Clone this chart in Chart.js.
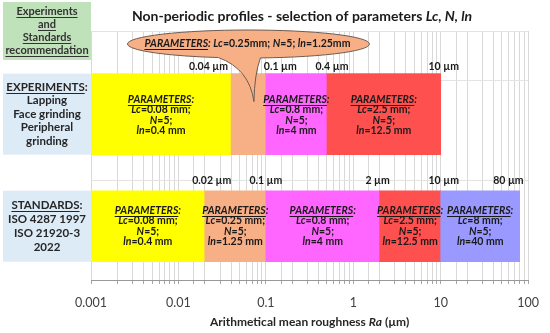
<!DOCTYPE html>
<html>
<head>
<meta charset="utf-8">
<script src="https://cdn.jsdelivr.net/npm/chart.js@4.4.0/dist/chart.umd.min.js"></script>
<style>
  html, body { margin: 0; padding: 0; background: #fff; }
  #wrap { width: 550px; height: 333px; }
</style>
</head>
<body>
<div id="wrap"><canvas id="canvas" width="550" height="333"></canvas></div>
<script>
// Ra ranges (µm) with the filter settings used for each range
var expEdges = [0.001, 0.04, 0.1, 0.5, 10];
var expEdgeLabels = ['0.04 µm', '0.1 µm', '0.4 µm', '10 µm'];
var expLc = ['0.08', '0.25', '0.8', '2.5'];
var expLn = ['0.4', '1.25', '4', '12.5'];

var stdEdges = [0.001, 0.02, 0.1, 2, 10, 80];
var stdEdgeLabels = ['0.02 µm', '0.1 µm', '2 µm', '10 µm', '80 µm'];
var stdLc = ['0.08', '0.25', '0.8', '2.5', '8'];
var stdLn = ['0.4', '1.25', '4', '12.5', '40'];

var nCount = 5;
var rowPos = [1.665, 0.54];   // experiments row, standards row
var xTicks = [0.001, 0.01, 0.1, 1, 10, 100];
var calloutSeg = 1;           // experiments segment whose params sit in the callout

var headLines = ['_Experiments_', '_and_', '_Standards_', '_recommendation_'];
var expLines = ['_EXPERIMENTS_:', 'Lapping', 'Face grinding', 'Peripheral', 'grinding'];
var stdLines = ['_STANDARDS_:', 'ISO 4287 1997', 'ISO 21920-3', '2022'];

var expColors = ['#FFFF00', '#F7AF85', '#FF66FF', '#FF5050'];
var stdColors = ['#FFFF00', '#F7AF85', '#FF66FF', '#FF5050', '#9999FF'];

function ranges(edges, y) {
  var out = [];
  for (var i = 0; i < edges.length - 1; i++) out.push({x: [edges[i], edges[i + 1]], y: y});
  return out;
}

// tiny markup: *italic*, _underline_ (all text is bold)
function parseRuns(s) {
  var runs = [], cur = {t: '', i: false, u: false};
  for (var k = 0; k < s.length; k++) {
    var c = s[k];
    if (c === '*' || c === '_') {
      if (cur.t) runs.push(cur);
      cur = {t: '', i: c === '*' ? !cur.i : cur.i, u: c === '_' ? !cur.u : cur.u};
    } else cur.t += c;
  }
  if (cur.t) runs.push(cur);
  return runs;
}

function drawRich(ctx, s, x, y, size, align, color, weight) {
  var runs = parseRuns(s), w = 0;
  weight = weight || 'bold';
  function font(r) { return (r.i ? 'italic ' : '') + weight + ' ' + size + 'px Lato'; }
  runs.forEach(function(r) { ctx.font = font(r); r.w = ctx.measureText(r.t).width; w += r.w; });
  var sx = align === 'left' ? x : align === 'right' ? x - w : x - w / 2;
  ctx.fillStyle = color;
  ctx.textBaseline = 'middle';
  ctx.textAlign = 'left';
  runs.forEach(function(r) {
    ctx.font = font(r);
    ctx.fillText(r.t, sx, y);
    if (r.u) ctx.fillRect(sx, Math.round(y + size * 0.5), r.w, 1);
    sx += r.w;
  });
}

function drawBlock(ctx, lines, cx, cy, size, gap, color) {
  var y0 = cy - (lines.length - 1) * gap / 2;
  lines.forEach(function(l, i) { drawRich(ctx, l, cx, y0 + i * gap, size, 'center', color); });
}

var decor = {
  id: 'decor',
  afterDatasetsDraw: function(chart) {
    var ctx = chart.ctx, xs = chart.scales.x, area = chart.chartArea;
    var expBars = chart.getDatasetMeta(0).data, stdBars = chart.getDatasetMeta(1).data;
    ctx.save();

    // texts inside the bars
    expBars.forEach(function(b, i) {
      if (i === calloutSeg) return;
      drawBlock(ctx, ['_*PARAMETERS*_*:*', '*Lc*=' + expLc[i] + ' mm;', '*N*=' + nCount + ';', '*ln*=' + expLn[i] + ' mm'],
        (b.x + b.base) / 2, b.y + 1, 10.5, 10.5, '#1a1a1a');
    });
    stdBars.forEach(function(b, i) {
      drawBlock(ctx, ['_*PARAMETERS*_*:*', '*Lc*=' + stdLc[i] + ' mm;', '*N*=' + nCount + ';', '*ln*=' + stdLn[i] + ' mm'],
        (b.x + b.base) / 2, b.y, 10.5, 10.5, '#1a1a1a');
    });

    // range limit labels
    var eTop = expBars[0].y - expBars[0].height / 2;
    var eAlign = ['right', 'left', 'center', 'center'], eShift = [-3, -2, 5, 3];
    expEdgeLabels.forEach(function(t, i) {
      drawRich(ctx, t, xs.getPixelForValue(expEdges[i + 1]) + eShift[i], eTop - 7, 10.5, eAlign[i], '#1a1a1a');
    });
    var sTop = stdBars[0].y - stdBars[0].height / 2;
    var sAlign = ['center', 'center', 'center', 'center', 'right'], sShift = [7, 0, -2, 3, 4];
    stdEdgeLabels.forEach(function(t, i) {
      drawRich(ctx, t, xs.getPixelForValue(stdEdges[i + 1]) + sShift[i], sTop - 10, 10.5, sAlign[i], '#1a1a1a');
    });

    // callout for the 0.04-0.1 experiments range
    var seg = expBars[calloutSeg];
    var cx = (seg.x + seg.base) / 2, cy = area.top + 13, rx = 121, ry = 14;
    var tipX = cx + 5.5, tipY = eTop + 28;
    var aL = Math.acos(-30 / rx), aR = Math.acos(12 / rx);
    var rxp = cx + 12, ryp = cy + ry * Math.sin(aR);
    ctx.beginPath();
    ctx.ellipse(cx, cy, rx, ry, 0, aR, aL - 2 * Math.PI, true);
    ctx.quadraticCurveTo(cx + 1, cy + 25, tipX, tipY);
    ctx.quadraticCurveTo(cx + 6, cy + 30, rxp, ryp);
    ctx.closePath();
    ctx.fillStyle = '#F7AF85';
    ctx.fill();
    ctx.strokeStyle = '#6e5c52';
    ctx.lineWidth = 1;
    ctx.stroke();
    drawRich(ctx, '_*PARAMETERS*_*:* *Lc*=' + expLc[calloutSeg] + 'mm; *N*=' + nCount + '; *ln*=' + expLn[calloutSeg] + 'mm',
      cx - 1, cy, 10.5, 'center', '#1a1a1a');

    // left side boxes
    var bx = 3, bw = area.left - bx;
    [[expBars[0], expLines, 13.5], [stdBars[0], stdLines, 14]].forEach(function(r) {
      var top = r[0].y - r[0].height / 2;
      ctx.fillStyle = '#DDEBF7';
      ctx.fillRect(bx, top, bw, r[0].height);
      drawBlock(ctx, r[1], bx + bw / 2, r[0].y, 11.5, r[2], '#262626');
    });
    ctx.fillStyle = '#C0E2BA';
    ctx.fillRect(bx, 2, bw, 58);
    drawBlock(ctx, headLines, bx + bw / 2, 31, 11, 13, '#333333');

    // title and axis title
    drawRich(ctx, 'Non-periodic profiles - selection of parameters *Lc, N, ln*', 302, 16, 14, 'center', '#1a1a1a');
    drawRich(ctx, 'Arithmetical mean roughness *Ra* (µm)', (area.left + area.right) / 2, 322, 12, 'center', '#262626');
    ctx.restore();
  }
};

var ctx = document.getElementById('canvas').getContext('2d');
new Chart(ctx, {
  type: 'bar',
  data: {
    datasets: [
      { label: 'Experiments', data: ranges(expEdges, rowPos[0]), backgroundColor: expColors,
        barThickness: 81, grouped: false, borderWidth: 0 },
      { label: 'Standards', data: ranges(stdEdges, rowPos[1]), backgroundColor: stdColors,
        barThickness: 71, grouped: false, borderWidth: 0 }
    ]
  },
  options: {
    indexAxis: 'y',
    responsive: false,
    animation: false,
    layout: { padding: { left: 91, right: 13, top: 31, bottom: 12 } },
    plugins: { legend: { display: false }, tooltip: { enabled: false } },
    scales: {
      x: {
        type: 'logarithmic',
        min: 0.001,
        max: 100,
        grid: { color: '#d9d9d9', tickLength: 4, tickColor: '#a6a6a6' },
        border: { color: '#999999' },
        ticks: {
          autoSkip: false,
          maxRotation: 0,
          padding: 11,
          color: '#404040',
          font: { family: 'Lato', size: 12.5 },
          callback: function(v) {
            var hit = xTicks.filter(function(t) { return Math.abs(t - v) < t * 1e-6; });
            return hit.length ? String(hit[0]) : '';
          }
        }
      },
      y: {
        type: 'linear',
        min: 0,
        max: 2.5,
        offset: false,
        ticks: { display: false, stepSize: 1 },
        grid: { color: '#e3e3e3', drawTicks: false, offset: false },
        border: { display: false }
      }
    }
  },
  plugins: [decor]
});
</script>
</body>
</html>
